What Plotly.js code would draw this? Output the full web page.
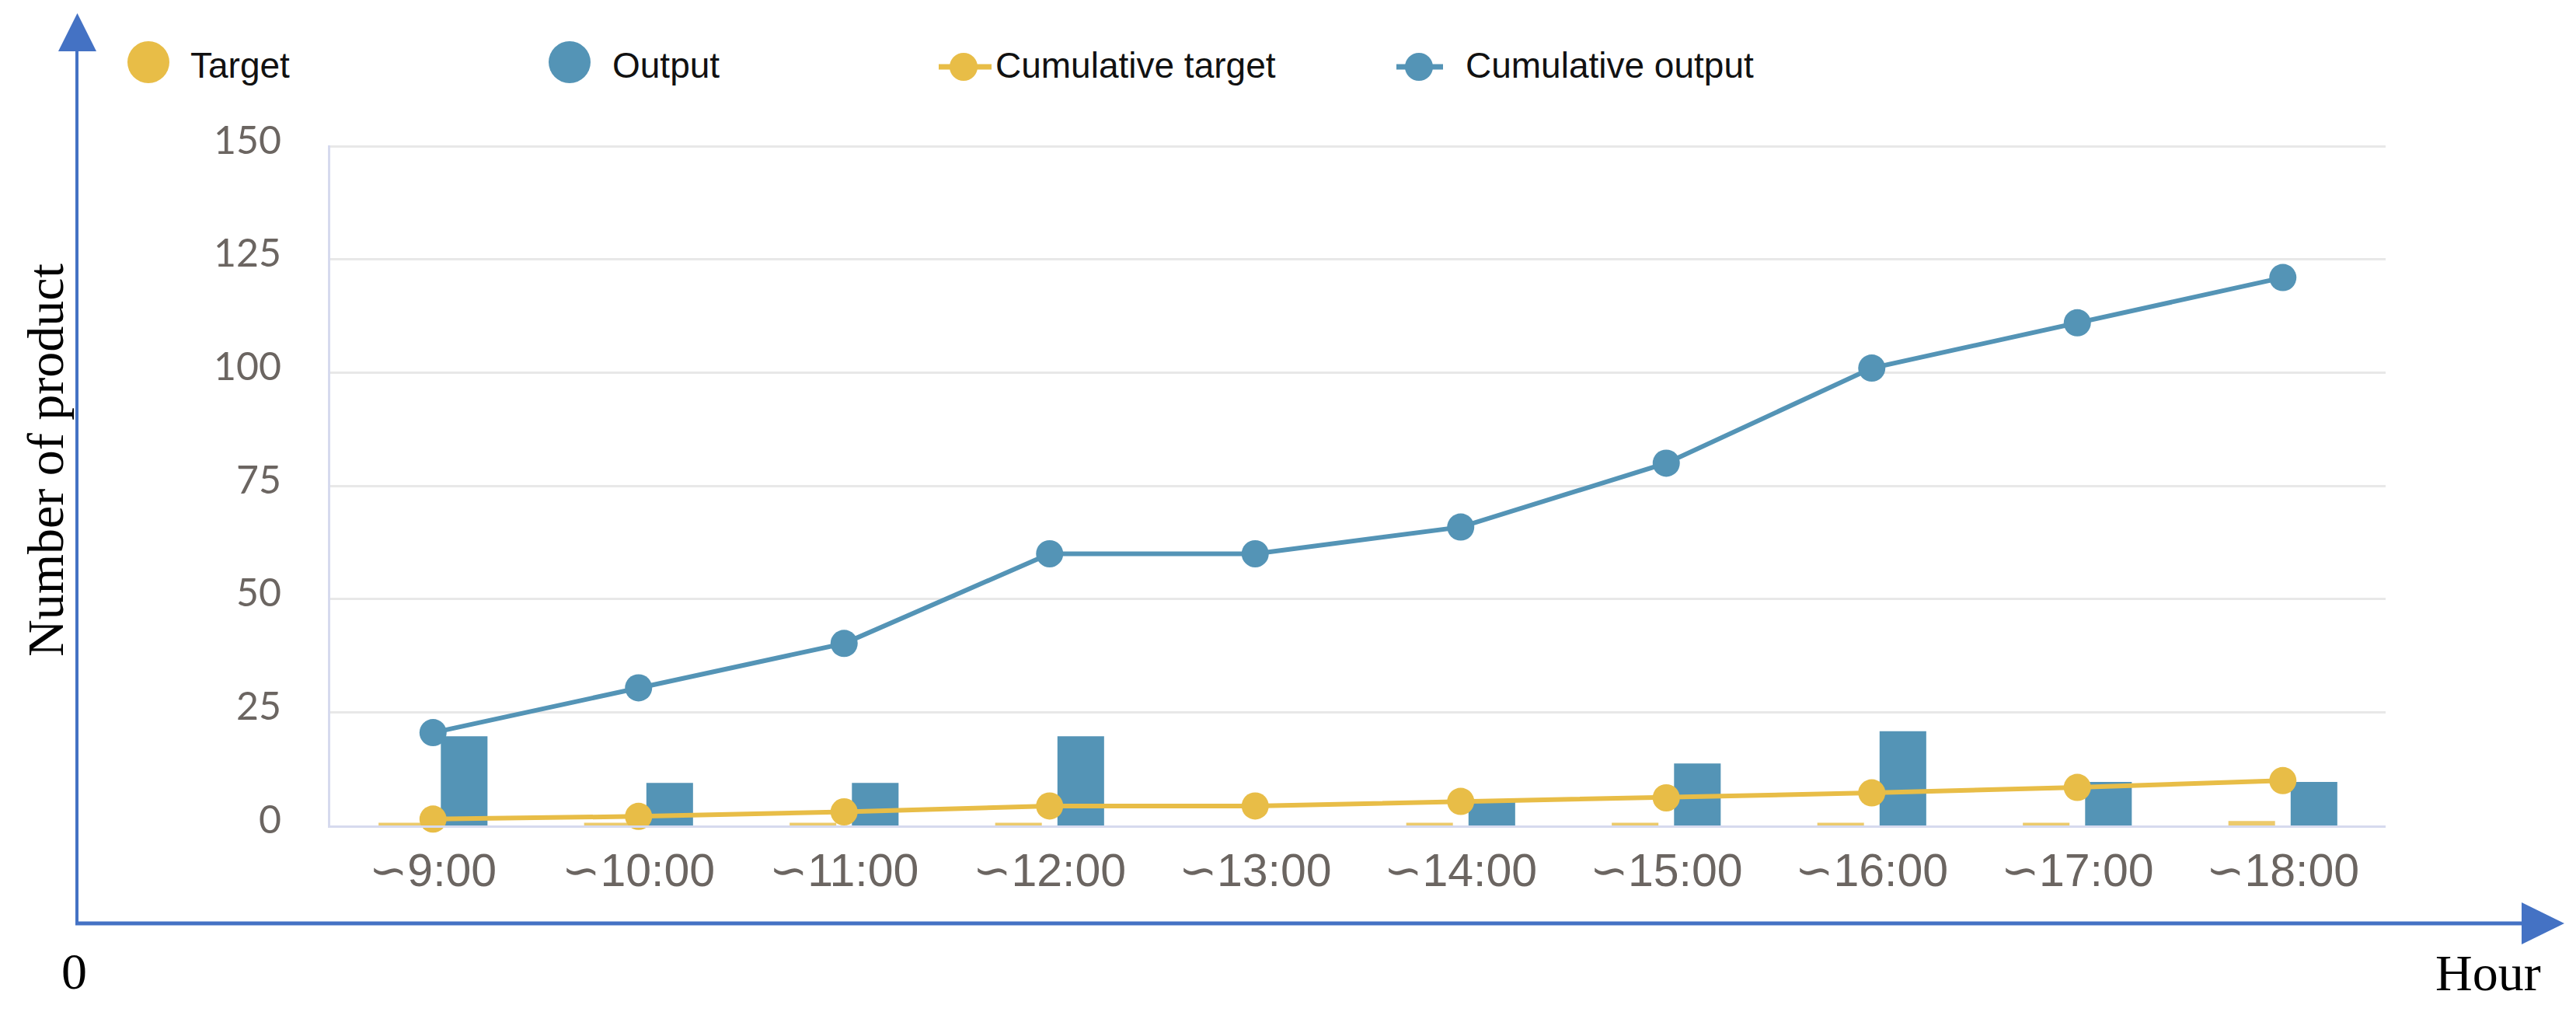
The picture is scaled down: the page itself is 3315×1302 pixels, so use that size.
<!DOCTYPE html>
<html>
<head>
<meta charset="utf-8">
<script src="https://cdn.plot.ly/plotly-3.0.1.min.js"></script>
<style>html,body{margin:0;padding:0;background:#fff;} #chart{width:3315px;height:1302px;}</style>
</head>
<body>
<div id="chart"></div>
<script>
// ---- data ----
const hours = ['∽9:00','∽10:00','∽11:00','∽12:00','∽13:00','∽14:00','∽15:00','∽16:00','∽17:00','∽18:00'];
const target = [0.6, 0.6, 0.6, 0.6, 0, 0.6, 0.6, 0.6, 0.6, 1.0];
const output = [19.7, 9.4, 9.4, 19.7, 0, 5.4, 13.7, 20.8, 9.6, 9.6];
const cumTarget = [1.4, 2.0, 3.0, 4.3, 4.3, 5.3, 6.1, 7.2, 8.4, 9.9];
const cumOutput = [20.5, 30.4, 40.2, 60, 60, 65.9, 80, 101, 111, 121];
const yTicks = [0, 25, 50, 75, 100, 125, 150];
const legendNames = ['Target', 'Output', 'Cumulative target', 'Cumulative output'];

// ---- geometry helpers (pixel -> paper) ----
const W = 3315, H = 1302, L = 425, R = 3070, T = 187, B = 1062;
const px = x => (x - L) / (R - L);
const py = y => (B - y) / (B - T);

const YEL = '#e8bd47', YEL_BAR = '#ecca6c', BLU = '#5494b6', ARW = '#4472c4';

const traces = [
  {type:'bar', x:hours, y:target, name:legendNames[0], marker:{color:YEL_BAR}, width:0.227, offset:-0.265},
  {type:'bar', x:hours, y:output, name:legendNames[1], marker:{color:BLU}, width:0.227, offset:0.038},
  {type:'scatter', mode:'lines+markers', x:hours, y:cumTarget, name:legendNames[2],
   line:{color:YEL, width:6}, marker:{color:YEL, size:35}, cliponaxis:false},
  {type:'scatter', mode:'lines+markers', x:hours, y:cumOutput, name:legendNames[3],
   line:{color:BLU, width:6}, marker:{color:BLU, size:35}, cliponaxis:false}
];

const circle = (cx, cy, r, color) => ({type:'circle', xref:'paper', yref:'paper',
  x0:px(cx-r), x1:px(cx+r), y0:py(cy+r), y1:py(cy-r), fillcolor:color, line:{width:0}});
const hline = (x0, x1, y, color, w) => ({type:'line', xref:'paper', yref:'paper',
  x0:px(x0), x1:px(x1), y0:py(y), y1:py(y), line:{color:color, width:w}});

const shapes = [
  // frame arrows
  {type:'line', xref:'paper', yref:'paper', x0:px(99), x1:px(99), y0:py(1190), y1:py(60), line:{color:ARW, width:4}},
  {type:'path', xref:'paper', yref:'paper', path:`M ${px(75)},${py(66)} L ${px(99.5)},${py(17)} L ${px(124)},${py(66)} Z`, fillcolor:ARW, line:{width:0}},
  hline(97, 3250, 1188, ARW, 5),
  {type:'path', xref:'paper', yref:'paper', path:`M ${px(3245)},${py(1161)} L ${px(3300)},${py(1188)} L ${px(3245)},${py(1215)} Z`, fillcolor:ARW, line:{width:0}},
  // legend symbols
  circle(191, 80, 27, YEL),
  circle(733, 80, 27, BLU),
  hline(1208, 1276, 86, YEL, 7),
  circle(1240, 86, 18, YEL),
  hline(1797, 1857, 86, BLU, 7),
  circle(1826, 86, 18, BLU)
];

const legFont = {family:'Liberation Sans, Arial, sans-serif', size:46, color:'#111'};
const serif = {family:'Liberation Serif, Times New Roman, serif', size:66, color:'#000'};
const ann = (text, x, y, font, extra) => Object.assign({text:text, xref:'paper', yref:'paper',
  x:px(x), y:py(y), xanchor:'left', yanchor:'middle', showarrow:false, font:font}, extra || {});

const annotations = [
  ann(legendNames[0], 243, 84, legFont),
  ann(legendNames[1], 786, 84, legFont),
  ann(legendNames[2], 1279, 84, legFont),
  ann(legendNames[3], 1884, 84, legFont),
  ann('Number of product', 58, 592, serif, {xanchor:'center', textangle:-90}),
  ann('0', 95, 1249, serif, {xanchor:'center'}),
  ann('Hour', 3202, 1251, serif, {xanchor:'center'})
];

const layout = {
  width:W, height:H,
  margin:{l:L, r:W-R, t:T, b:H-B, pad:0},
  paper_bgcolor:'#fff', plot_bgcolor:'#fff',
  showlegend:false,
  barmode:'overlay',
  xaxis:{type:'category', range:[-0.5, 9.5], showgrid:false, zeroline:false,
    showline:true, linecolor:'#d6daee', linewidth:3, ticks:'',
    tickfont:{family:'Liberation Sans, Arial, sans-serif', size:59, color:'#6b6561'},
    ticklabelstandoff:4},
  yaxis:{range:[0, 150.2], tickvals:yTicks, ticktext:yTicks.map(String),
    showgrid:true, gridcolor:'#e8e8e8', gridwidth:3, zeroline:false,
    showline:true, linecolor:'#d6daee', linewidth:3, ticks:'',
    tickfont:{family:'Lato, Open Sans, sans-serif', size:50, color:'#6b6561'},
    ticklabelstandoff:50, ticklabelshift:-8},
  shapes:shapes,
  annotations:annotations
};

Plotly.newPlot('chart', traces, layout, {displayModeBar:false, staticPlot:true});
</script>
</body>
</html>
